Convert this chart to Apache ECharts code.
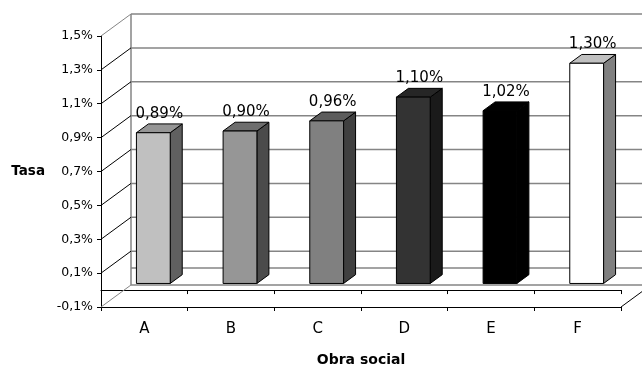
<!DOCTYPE html>
<html>
<head>
<meta charset="utf-8">
<script src="https://cdn.jsdelivr.net/npm/echarts@6/dist/echarts.min.js"></script>
<style>
  html, body { margin: 0; padding: 0; background: #fff; }
  #chart { width: 642px; height: 367px; }
</style>
</head>
<body>
<div id="chart"></div>
<script>
// Tasa por obra social
const categories = ['A', 'B', 'C', 'D', 'E', 'F'];
const tasaValues = [0.89, 0.90, 0.96, 1.10, 1.02, 1.30];
const yTicks = [-0.1, 0.1, 0.3, 0.5, 0.7, 0.9, 1.1, 1.3, 1.5];

// Face shading for each column (front, top, side)
const faceFront = ['#c0c0c0', '#969696', '#808080', '#333333', '#000000', '#ffffff'];
const faceTop   = ['#969696', '#6e6e6e', '#5c5c5c', '#262626', '#000000', '#c0c0c0'];
const faceSide  = ['#606060', '#4b4b4b', '#404040', '#1a1a1a', '#000000', '#808080'];

// Perspective depth of the plot box and of the columns inside it
const DEPTH_X = 30, DEPTH_Y = -22;
const COL_FRONT = 0.3, COL_BACK = 0.7, COL_WIDTH = 0.39;
const FONT = '"DejaVu Sans", Verdana, sans-serif';

const fmtAxis = v => v.toFixed(1).replace('.', ',') + '%';
const fmtValue = v => v.toFixed(2).replace('.', ',') + '%';

function line(x1, y1, x2, y2, color, width) {
  return { type: 'line', shape: { x1, y1, x2, y2 },
           style: { stroke: color, lineWidth: width }, silent: true };
}

// Side wall diagonals and back wall gridlines, one per y tick
function renderWall(params, api) {
  const cs = params.coordSys;
  const x0 = cs.x, x1 = cs.x + cs.width;
  const v = api.value(0);
  const y = api.coord([0, v])[1];
  const edge = (params.dataIndex === 0 || params.dataIndex === yTicks.length - 1);
  const children = [
    line(x0 + DEPTH_X, y + DEPTH_Y, x1 + DEPTH_X, y + DEPTH_Y, '#858585', 1.5),
    line(x0, y, x0 + DEPTH_X, y + DEPTH_Y, edge ? '#858585' : '#000', 1)
  ];
  if (params.dataIndex === 0) {
    const yTop = cs.y, yBot = cs.y + cs.height;
    const yZero = api.coord([0, 0])[1];
    children.push(line(x0 + DEPTH_X, yTop + DEPTH_Y, x0 + DEPTH_X, yBot + DEPTH_Y, '#858585', 1.5));
    children.push(line(x0 + DEPTH_X, yZero + DEPTH_Y, x1 + DEPTH_X, yZero + DEPTH_Y, '#858585', 1.5));
    children.push(line(x1, yBot, x1 + DEPTH_X, yBot + DEPTH_Y, '#000', 1));
  }
  return { type: 'group', children };
}

// 3D column: front face, top face, right side face, and its value label
function renderColumn(params, api) {
  const i = api.value(0), v = api.value(1);
  const base = api.coord([i, 0]);
  const topPt = api.coord([i, v]);
  const w = api.size([1, 0])[0] * COL_WIDTH;
  const fdx = DEPTH_X * COL_FRONT, fdy = DEPTH_Y * COL_FRONT;
  const ddx = DEPTH_X * (COL_BACK - COL_FRONT), ddy = DEPTH_Y * (COL_BACK - COL_FRONT);
  const xl = base[0] + fdx - w / 2, xr = xl + w;
  const yt = topPt[1] + fdy, yb = base[1] + fdy;
  const stroke = { stroke: '#000', lineWidth: 1, lineJoin: 'miter' };
  const idx = params.dataIndex;
  return {
    type: 'group',
    children: [
      { type: 'polygon',
        shape: { points: [[xr, yt], [xr + ddx, yt + ddy], [xr + ddx, yb + ddy], [xr, yb]] },
        style: Object.assign({ fill: faceSide[idx] }, stroke) },
      { type: 'polygon',
        shape: { points: [[xl, yt], [xr, yt], [xr + ddx, yt + ddy], [xl + ddx, yt + ddy]] },
        style: Object.assign({ fill: faceTop[idx] }, stroke) },
      { type: 'rect',
        shape: { x: xl, y: yt, width: w, height: yb - yt },
        style: Object.assign({ fill: faceFront[idx] }, stroke) },
      { type: 'text',
        x: base[0] + DEPTH_X / 2, y: topPt[1] + DEPTH_Y * COL_BACK - 10,
        style: { text: fmtValue(v), fill: '#000', font: '15px ' + FONT,
                 align: 'center', verticalAlign: 'middle' } }
    ]
  };
}

const chart = echarts.init(document.getElementById('chart'), null, { renderer: 'canvas' });
chart.setOption({
  animation: false,
  backgroundColor: '#fff',
  grid: { left: 101, right: 21, top: 36, bottom: 60, containLabel: false, outerBoundsMode: 'none' },
  xAxis: [
    { type: 'category', data: categories, position: 'bottom',
      axisLine: { onZero: true, lineStyle: { color: '#000', width: 1 } },
      axisTick: { show: true, length: 4, inside: false, lineStyle: { color: '#000' } },
      axisLabel: { show: false }, splitLine: { show: false } },
    { type: 'category', data: categories, position: 'bottom',
      axisLine: { onZero: false, lineStyle: { color: '#000', width: 1 } },
      axisTick: { show: true, length: 4, inside: false, lineStyle: { color: '#000' } },
      axisLabel: { show: true, margin: 15, color: '#000', fontSize: 15, fontFamily: FONT },
      splitLine: { show: false },
      name: 'Obra social', nameLocation: 'middle', nameGap: 46,
      nameTextStyle: { color: '#000', fontSize: 14, fontWeight: 'bold', fontFamily: FONT } }
  ],
  yAxis: {
    type: 'value', min: -0.1, max: 1.5, interval: 0.2,
    axisLine: { show: true, lineStyle: { color: '#000', width: 1 } },
    axisTick: { show: true, length: 4, inside: false, lineStyle: { color: '#000' } },
    axisLabel: { margin: 8, color: '#000', fontSize: 12.5, fontFamily: FONT, formatter: fmtAxis },
    splitLine: { show: false },
    name: 'Tasa', nameLocation: 'middle', nameRotate: 0, nameGap: 56,
    nameTextStyle: { color: '#000', fontSize: 13.5, fontWeight: 'bold', fontFamily: FONT }
  },
  series: [
    { type: 'custom', name: 'pared', xAxisIndex: 0, yAxisIndex: 0, z: 1,
      renderItem: renderWall, data: yTicks.map(v => [v]),
      encode: { y: 0 }, silent: true },
    { type: 'custom', name: 'Tasa', xAxisIndex: 0, yAxisIndex: 0, z: 3,
      renderItem: renderColumn, data: tasaValues.map((v, i) => [i, v]),
      encode: { x: 0, y: 1 } }
  ]
});
</script>
</body>
</html>
